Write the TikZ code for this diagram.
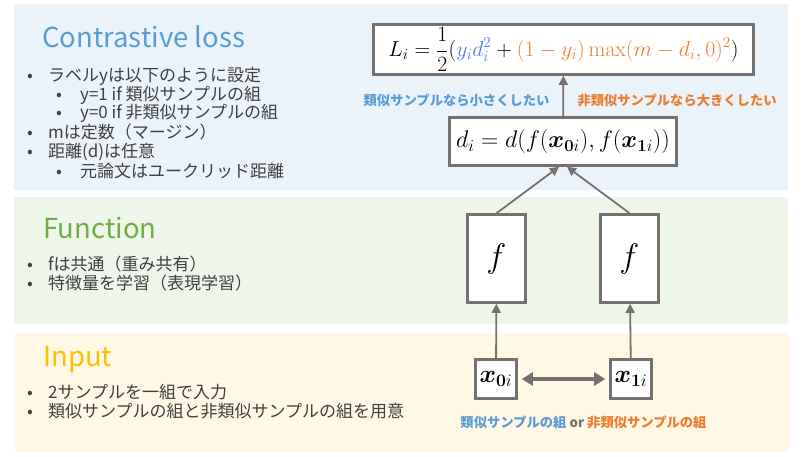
\RequirePackage{fix-cm}
\documentclass[tikz,border=0pt]{standalone}
\usepackage[no-math]{fontspec}
\usepackage{bm}
\setmainfont{Noto Sans CJK JP}
\usetikzlibrary{arrows.meta}
\definecolor{panelblue}{HTML}{EBF3FA}
\definecolor{panelgreen}{HTML}{EEF6EA}
\definecolor{panelyellow}{HTML}{FFF8E4}
\definecolor{titleblue}{HTML}{5B9BD5}
\definecolor{titlegreen}{HTML}{70AD47}
\definecolor{titleyellow}{HTML}{FFC000}
\definecolor{boxgray}{HTML}{767171}
\definecolor{textgray}{HTML}{404040}
\definecolor{simblue}{HTML}{5B9BD5}
\definecolor{formblue}{HTML}{4C7CF0}
\definecolor{dissimorange}{HTML}{ED7D31}
\begin{document}
\begin{tikzpicture}[x=1pt,y=-1pt,
    mathbox/.style={draw=boxgray,line width=2.6pt,fill=white,inner sep=0pt},
    title/.style={anchor=base west,inner sep=0pt,font=\fontsize{27.5}{30}\selectfont},
    item/.style={anchor=west,inner sep=0pt,text=textgray,font=\fontsize{17}{19}\selectfont},
    note/.style={font=\bfseries\fontsize{13.3}{15}\selectfont},
    link/.style={draw=boxgray,line width=1.8pt,-{Triangle[length=9pt,width=9pt]}}]
    \useasboundingbox (0,0) rectangle (805,457);
    \fill[panelblue] (14,4) rectangle (788,190);
    \fill[panelgreen] (14,197) rectangle (788,324);
    \fill[panelyellow] (15,333) rectangle (789,452);

    \node[title,text=titleblue] (losstitle) at (42,48) {Contrastive loss};
    \node[item] (lossitem1) at (27,76) {\makebox[21pt][l]{•}ラベルyは以下のように設定};
    \node[item] (lossitem2) at (56,95) {\makebox[24pt][l]{•}y=1 if 類似サンプルの組};
    \node[item] (lossitem3) at (56,113) {\makebox[24pt][l]{•}y=0 if 非類似サンプルの組};
    \node[item] (lossitem4) at (27,132) {\makebox[21pt][l]{•}mは定数（マージン）};
    \node[item] (lossitem5) at (27,152) {\makebox[21pt][l]{•}距離(d)は任意};
    \node[item] (lossitem6) at (56,171) {\makebox[24pt][l]{•}元論文はユークリッド距離};

    \node[title,text=titlegreen] (functitle) at (43,238) {Function};
    \node[item] (funcitem1) at (27,264) {\makebox[21pt][l]{•}fは共通（重み共有）};
    \node[item] (funcitem2) at (27,283) {\makebox[21pt][l]{•}特徴量を学習（表現学習）};

    \node[title,text=titleyellow] (inputtitle) at (43,366) {Input};
    \node[item] (inputitem1) at (27,392) {\makebox[21pt][l]{•}2サンプルを一組で入力};
    \node[item] (inputitem2) at (27,411) {\makebox[21pt][l]{•}類似サンプルの組と非類似サンプルの組を用意};

    \node[mathbox,minimum width=380pt,minimum height=50pt,font=\fontsize{21.8}{26}\selectfont] (loss) at (563.5,49.5)
        {$\displaystyle L_i=\frac{1}{2}(\textcolor{formblue}{y_id_i^2}+\textcolor{dissimorange}{(1-y_i)\max(m-d_i,0)^2})$};
    \node[mathbox,minimum width=227pt,minimum height=48pt,font=\fontsize{24}{29}\selectfont] (dist) at (563,141.5)
        {$d_i=d(f(\bm{x}_{\bm{0}i}),f(\bm{x}_{\bm{1}i}))$};
    \node[mathbox,minimum width=58pt,minimum height=88pt,font=\fontsize{34}{38}\selectfont] (f0) at (496.5,258.5) {$f$};
    \node[mathbox,minimum width=58pt,minimum height=88pt,font=\fontsize{34}{38}\selectfont] (f1) at (629.5,258.5) {$f$};
    \node[mathbox,minimum width=41pt,minimum height=39pt,font=\fontsize{25}{29}\selectfont] (x0) at (496,379) {$\bm{x}_{\bm{0}i}$};
    \node[mathbox,minimum width=41pt,minimum height=39pt,font=\fontsize{25}{29}\selectfont] (x1) at (631,379) {$\bm{x}_{\bm{1}i}$};

    \draw[link] (dist) -- (loss);
    \draw[link] (f0.north) -- ([xshift=-4pt]dist.south);
    \draw[link] (f1.north) -- ([xshift=4pt]dist.south);
    \draw[link] (x0) -- (f0);
    \draw[link] (x1) -- (f1);
    \draw[boxgray,line width=4pt,{Triangle[length=11pt,width=13pt]}-{Triangle[length=11pt,width=13pt]},shorten <=4pt,shorten >=4pt] (x0) -- (x1);

    \node[note,text=simblue,anchor=east] (smallnote) at (553,100) {類似サンプルなら小さくしたい};
    \node[note,text=dissimorange,anchor=west] (largenote) at (574,100) {非類似サンプルなら大きくしたい};
    \node[note] (pairnote) at (583.5,422) {\textcolor{simblue}{類似サンプルの組} \textcolor{boxgray}{or} \textcolor{dissimorange}{非類似サンプルの組}};
\end{tikzpicture}
\end{document}
